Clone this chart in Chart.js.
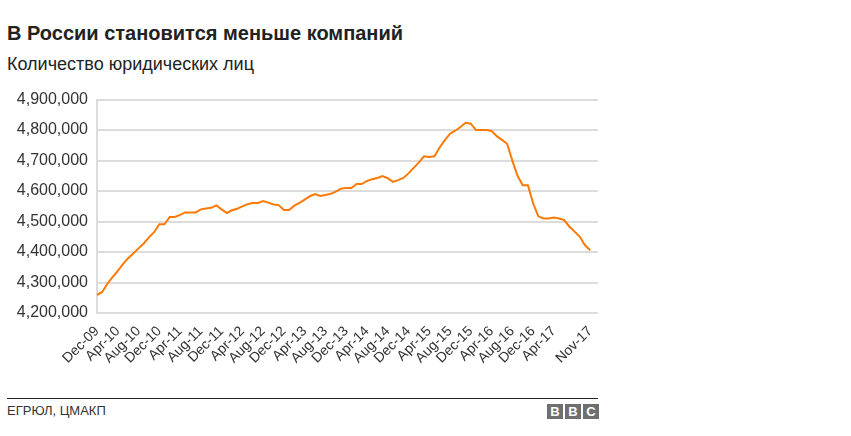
<!DOCTYPE html>
<html>
<head>
<meta charset="utf-8">
<script src="https://cdn.jsdelivr.net/npm/chart.js@4"></script>
<style>
  body { margin: 0; background: #fff; font-family: "Liberation Sans", Arial, sans-serif; }
  #page { position: relative; width: 851px; height: 436px; }
  #title { position: absolute; left: 7px; top: 22px; font-size: 20px; font-weight: bold; color: #222; }
  #subtitle { position: absolute; left: 7px; top: 54px; font-size: 18px; color: #222; }
  #box { position: absolute; left: 0; top: 81px; width: 605px; height: 307px; }
  #rule { position: absolute; left: 7px; top: 398px; width: 591px; height: 1px; background: #222; }
  #source { position: absolute; left: 7px; top: 403px; font-size: 13px; color: #333; }
  #bbc { position: absolute; left: 547px; top: 404px; display: flex; gap: 2px; }
  #bbc span { width: 16px; height: 15px; background: #6f6f6f; color: #fff; font-weight: bold;
    font-size: 13px; line-height: 15px; text-align: center; }
</style>
</head>
<body>
<div id="page">
  <div id="title">В России становится меньше компаний</div>
  <div id="subtitle">Количество юридических лиц</div>
  <div id="box"><canvas id="chart"></canvas></div>
  <div id="rule"></div>
  <div id="source">ЕГРЮЛ, ЦМАКП</div>
  <div id="bbc"><span>B</span><span>B</span><span>C</span></div>
</div>
<script>
// Months, Dec 2009 - Nov 2017
const months = [
  "Dec-09",
  "Jan-10", "Feb-10", "Mar-10", "Apr-10", "May-10", "Jun-10", "Jul-10", "Aug-10", "Sep-10", "Oct-10", "Nov-10", "Dec-10",
  "Jan-11", "Feb-11", "Mar-11", "Apr-11", "May-11", "Jun-11", "Jul-11", "Aug-11", "Sep-11", "Oct-11", "Nov-11", "Dec-11",
  "Jan-12", "Feb-12", "Mar-12", "Apr-12", "May-12", "Jun-12", "Jul-12", "Aug-12", "Sep-12", "Oct-12", "Nov-12", "Dec-12",
  "Jan-13", "Feb-13", "Mar-13", "Apr-13", "May-13", "Jun-13", "Jul-13", "Aug-13", "Sep-13", "Oct-13", "Nov-13", "Dec-13",
  "Jan-14", "Feb-14", "Mar-14", "Apr-14", "May-14", "Jun-14", "Jul-14", "Aug-14", "Sep-14", "Oct-14", "Nov-14", "Dec-14",
  "Jan-15", "Feb-15", "Mar-15", "Apr-15", "May-15", "Jun-15", "Jul-15", "Aug-15", "Sep-15", "Oct-15", "Nov-15", "Dec-15",
  "Jan-16", "Feb-16", "Mar-16", "Apr-16", "May-16", "Jun-16", "Jul-16", "Aug-16", "Sep-16", "Oct-16", "Nov-16", "Dec-16",
  "Jan-17", "Feb-17", "Mar-17", "Apr-17", "May-17", "Jun-17", "Jul-17", "Aug-17", "Sep-17", "Oct-17", "Nov-17"
];

// Number of legal entities
const companies = [
  4259000,
  4269000, 4296000, 4318000, 4338000, 4360000, 4380000, 4395000, 4412000, 4428000, 4448000, 4465000, 4491000,
  4491000, 4515000, 4515000, 4522000, 4530000, 4530000, 4530000, 4540000, 4543000, 4545000, 4553000, 4540000,
  4528000, 4537000, 4542000, 4550000, 4557000, 4561000, 4561000, 4567000, 4562000, 4556000, 4554000, 4538000,
  4538000, 4552000, 4561000, 4572000, 4583000, 4590000, 4584000, 4587000, 4591000, 4598000, 4608000, 4610000,
  4610000, 4623000, 4623000, 4633000, 4639000, 4643000, 4649000, 4642000, 4630000, 4636000, 4643000, 4658000,
  4676000, 4694000, 4714000, 4712000, 4714000, 4743000, 4767000, 4788000, 4798000, 4810000, 4824000, 4821000,
  4800000, 4800000, 4800000, 4797000, 4780000, 4768000, 4755000, 4700000, 4650000, 4619000, 4619000, 4560000,
  4517000, 4510000, 4510000, 4513000, 4510000, 4505000, 4483000, 4467000, 4450000, 4422000, 4406000
];

// Labels shown on the x axis
const tickLabels = [
  "Dec-09", "Apr-10", "Aug-10", "Dec-10", "Apr-11", "Aug-11", "Dec-11", "Apr-12", "Aug-12",
  "Dec-12", "Apr-13", "Aug-13", "Dec-13", "Apr-14", "Aug-14", "Dec-14", "Apr-15", "Aug-15",
  "Dec-15", "Apr-16", "Aug-16", "Dec-16", "Apr-17", "Nov-17"
];

const yTicks = [4200000, 4300000, 4400000, 4500000, 4600000, 4700000, 4800000, 4900000];

const points = companies.map((v, i) => ({ x: i, y: v }));

new Chart(document.getElementById("chart"), {
  type: "line",
  data: {
    datasets: [
      {
        data: points,
        borderColor: "#fa7a05",
        borderWidth: 2,
        pointRadius: 0,
        tension: 0,
        fill: false,
      },
    ],
  },
  options: {
    responsive: true,
    maintainAspectRatio: false,
    animation: false,
    events: [],
    layout: { padding: { top: 4, right: 7, left: 0, bottom: 0 } },
    plugins: { legend: { display: false }, tooltip: { enabled: false } },
    scales: {
      x: {
        type: "linear",
        min: 0,
        max: 96.5,
        afterBuildTicks: (scale) => {
          scale.ticks = tickLabels.map((l) => ({ value: months.indexOf(l) }));
        },
        afterFit: (scale) => {
          scale.height = 75;
        },
        grid: { display: false },
        border: { display: false },
        ticks: {
          autoSkip: false,
          minRotation: 45,
          maxRotation: 45,
          padding: 2,
          color: "#333",
          font: { family: "'Liberation Sans', Arial, sans-serif", size: 14 },
          callback: (value) => months[value],
        },
      },
      y: {
        min: 4200000,
        max: 4900000,
        afterBuildTicks: (scale) => {
          scale.ticks = yTicks.map((v) => ({ value: v }));
        },
        afterFit: (scale) => {
          scale.width = 97;
        },
        grid: { color: "#dcdcdc", lineWidth: 2, drawTicks: false },
        border: { display: true, color: "#dcdcdc", width: 2 },
        ticks: {
          padding: 9,
          color: "#333",
          font: { family: "'Liberation Sans', Arial, sans-serif", size: 16 },
          callback: (value) => value.toLocaleString("en-US"),
        },
      },
    },
  },
});
</script>
</body>
</html>
